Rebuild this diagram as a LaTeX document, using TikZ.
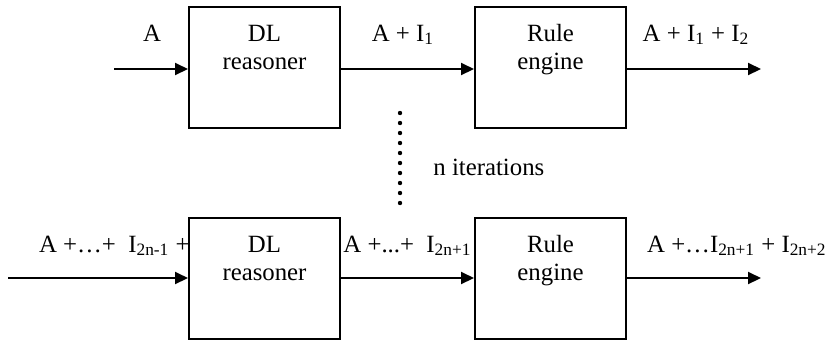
\documentclass[tikz,border=0pt]{standalone}
\usepackage{fontspec}
\setmainfont{Liberation Serif}
\usepackage{tikz}
\usetikzlibrary{arrows.meta}
\tikzset{
  rbox/.style={draw=black, line width=1pt, minimum width=75.5pt, minimum height=60.5pt, inner sep=0pt},
  rtext/.style={align=center, inner sep=0pt, font=\fontsize{12.4}{14}\selectfont},
  rlabel/.style={anchor=base, inner sep=0pt, font=\fontsize{12.4}{14}\selectfont},
  rarrow/.style={line width=1pt, -{Triangle[length=6.5pt,width=6pt]}},
  rdot/.style={fill=black, draw=none},
}

\begin{document}
\begin{tikzpicture}[x=0.5pt, y=-0.5pt]
\useasboundingbox (0,0) rectangle (828,339);
% first pass
\node[rbox] (dl1) at (264.5,67.5) {};
\node[rbox] (re1) at (550.5,67.5) {};
\node[rtext, anchor=base] (dl1t) at (264.5,69.5) {DL\\reasoner};
\node[rtext, anchor=base] (re1t) at (550.5,69.5) {Rule\\engine};
\coordinate (in1) at (114,69);
\coordinate (out1) at (761,69);
\draw[rarrow] (in1) -- (dl1.west |- in1);
\draw[rarrow] (dl1.east |- in1) -- (re1.west |- in1);
\draw[rarrow] (re1.east |- in1) -- (out1);
\node[rlabel] (l0) at (152,41) {A};
\node[rlabel] (l1) at (403,41) {A + I\textsubscript{1}};
\node[rlabel] (l2) at (696,41) {A + I\textsubscript{1} + I\textsubscript{2}};
% iterations
\foreach \k in {0,...,9}
  \fill[rdot] (400,113+10*\k) circle (1.1pt);
\node[rlabel, anchor=base west] (iter) at (433,175) {n iterations};
% last pass
\node[rbox] (dl2) at (264.5,278) {};
\node[rbox] (re2) at (550.5,278) {};
\node[rtext, anchor=base] (dl2t) at (264.5,280) {DL\\reasoner};
\node[rtext, anchor=base] (re2t) at (550.5,280) {Rule\\engine};
\coordinate (in2) at (8,278);
\coordinate (out2) at (761,278);
\draw[rarrow] (in2) -- (dl2.west |- in2);
\draw[rarrow] (dl2.east |- in2) -- (re2.west |- in2);
\draw[rarrow] (re2.east |- in2) -- (out2);
\node[rlabel, anchor=base east] (l3) at (190,252) {A +…+ \ I\textsubscript{2n-1} +};
\node[rlabel, anchor=base west] (l4) at (343,252) {A +...+ \ I\textsubscript{2n+1}};
\node[rlabel, anchor=base east] (l5) at (827,252) {A +…I\textsubscript{2n+1} + I\textsubscript{2n+2}};
\end{tikzpicture}
\end{document}
